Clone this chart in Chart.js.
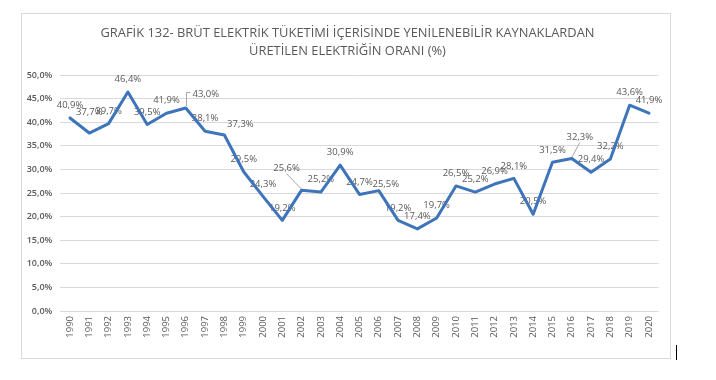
<!DOCTYPE html>
<html><head><meta charset="utf-8">
<script src="https://cdn.jsdelivr.net/npm/chart.js@4.4.1/dist/chart.umd.min.js"></script>
<style>html,body{margin:0;padding:0;background:#fff;}#wrap{position:relative;width:716px;height:380px;}</style>
</head><body><div id="wrap"><canvas id="c" width="716" height="380"></canvas></div>
<script>
// ---- data ----
const years = ['1990','1991','1992','1993','1994','1995','1996','1997','1998','1999','2000','2001','2002','2003','2004','2005','2006','2007','2008','2009','2010','2011','2012','2013','2014','2015','2016','2017','2018','2019','2020'];
const shares = [40.9,37.7,39.7,46.4,39.5,41.9,43.0,38.1,37.3,29.5,24.3,19.2,25.6,25.2,30.9,24.7,25.5,19.2,17.4,19.7,26.5,25.2,26.9,28.1,20.5,31.5,32.3,29.4,32.2,43.6,41.9];
const titleLines = ['GRAFİK 132- BRÜT ELEKTRİK TÜKETİMİ İÇERİSİNDE YENİLENEBİLİR KAYNAKLARDAN','ÜRETİLEN ELEKTRİĞİN ORANI (%)'];
const yMin = 0, yMax = 50, yStep = 5;

// ---- label placement (style) ----
const defaultOffset = [0, -12.5];
const labelPlacement = {
  1: {dx: 0, dy: -21},
  6: {dx: 20, dy: -14, leader: 'elbow'},
  8: {dx: 16, dy: -11},
  12: {dx: -15, dy: -21.5, leader: 'diag'},
  16: {dx: 7, dy: -6.6},
  26: {dx: 8, dy: -21, leader: 'diag'}
};

const fmt = v => v.toFixed(1).replace('.', ',') + '%';
const TEXT = '#595959';
const FONT = '"Open Sans", "Liberation Sans", sans-serif';

const decor = {
  id: 'decor',
  beforeDraw(chart) {
    const ctx = chart.ctx;
    ctx.save();
    ctx.fillStyle = '#fff';
    ctx.fillRect(0, 0, chart.width, chart.height);
    ctx.strokeStyle = '#d9d9d9';
    ctx.lineWidth = 1;
    ctx.strokeRect(21.5, 13.5, 649, 345);
    ctx.strokeStyle = '#000';
    ctx.beginPath(); ctx.moveTo(676.5, 345); ctx.lineTo(676.5, 360); ctx.stroke();
    ctx.fillStyle = TEXT;
    ctx.font = '12.9px ' + FONT;
    ctx.textAlign = 'center';
    ctx.textBaseline = 'middle';
    ctx.fillText(titleLines[0], 347.5, 33);
    ctx.fillText(titleLines[1], 347.5, 51);
    ctx.restore();
  },
  beforeDatasetsDraw(chart) {
    const ctx = chart.ctx;
    const meta = chart.getDatasetMeta(0);
    ctx.save();
    ctx.font = '9.5px ' + FONT;
    ctx.fillStyle = TEXT;
    ctx.textAlign = 'center';
    ctx.textBaseline = 'middle';
    meta.data.forEach((el, i) => {
      const p = labelPlacement[i] || {dx: defaultOffset[0], dy: defaultOffset[1]};
      const lx = el.x + p.dx, ly = el.y + p.dy;
      const txt = fmt(shares[i]);
      const w = ctx.measureText(txt).width;
      if (p.leader) {
        ctx.save();
        ctx.strokeStyle = '#a6a6a6';
        ctx.lineWidth = 1;
        ctx.beginPath();
        if (p.leader === 'elbow') {
          ctx.moveTo(Math.round(el.x) + 0.5, el.y - 2);
          ctx.lineTo(Math.round(el.x) + 0.5, ly - 1.5);
          ctx.lineTo(lx - w / 2 - 2, ly - 1.5);
        } else {
          ctx.moveTo(el.x, el.y - 1);
          ctx.lineTo(lx, ly + 5);
        }
        ctx.stroke();
        ctx.restore();
      }
      ctx.fillText(txt, lx, ly);
    });
    ctx.restore();
  }
};

new Chart(document.getElementById('c'), {
  type: 'line',
  data: {
    labels: years,
    datasets: [{
      data: shares,
      borderColor: '#3E74BA',
      borderWidth: 3,
      pointRadius: 0,
      tension: 0,
      borderJoinStyle: 'round',
      borderCapStyle: 'round',
      fill: false
    }]
  },
  options: {
    responsive: false,
    animation: false,
    devicePixelRatio: 1,
    layout: {padding: {top: 75, right: 57.4, bottom: 0, left: 0}},
    plugins: {legend: {display: false}, title: {display: false}, tooltip: {enabled: false}},
    scales: {
      x: {
        type: 'category',
        offset: true,
        grid: {display: false, drawTicks: false},
        border: {display: false},
        ticks: {minRotation: 90, maxRotation: 90, autoSkip: false, color: TEXT, font: {family: FONT, size: 9.5}, padding: 5},
        afterFit(s) { s.height = 69; }
      },
      y: {
        min: yMin, max: yMax,
        grid: {color: '#d9d9d9', lineWidth: 1, drawTicks: false},
        border: {display: false},
        ticks: {stepSize: yStep, color: TEXT, font: {family: FONT, size: 9, weight: '600'}, padding: 8, callback: v => fmt(v)},
        afterFit(s) { s.width = 60.35; }
      }
    }
  },
  plugins: [decor]
});
</script>
</body></html>
